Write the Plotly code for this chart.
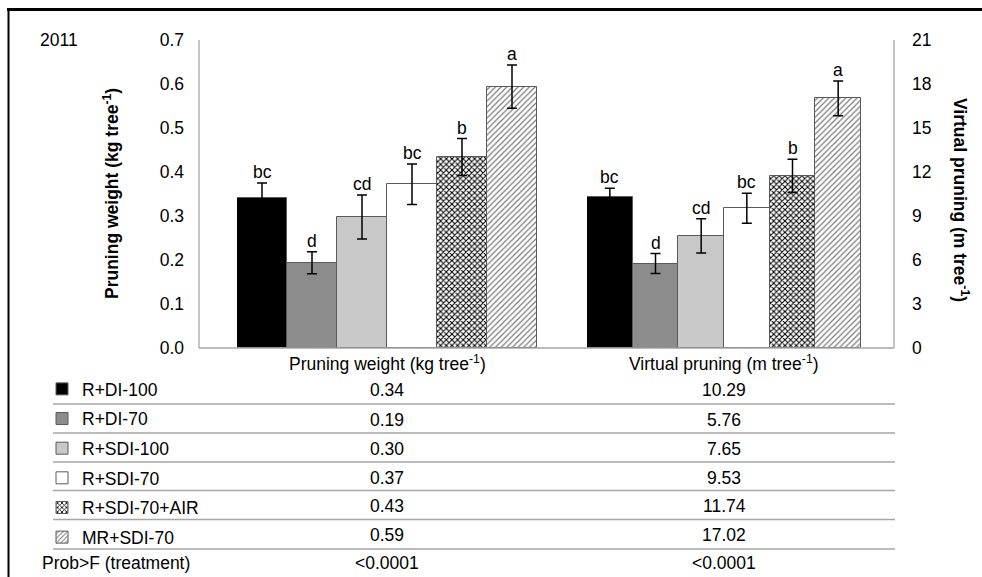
import plotly.graph_objects as go

# ---------------- data ----------------
treatments = ["R+DI-100", "R+DI-70", "R+SDI-100", "R+SDI-70", "R+SDI-70+AIR", "MR+SDI-70"]
pruning_weight = [0.34, 0.194, 0.298, 0.372, 0.434, 0.594]
pruning_err = [0.035, 0.025, 0.05, 0.046, 0.042, 0.049]
pruning_letters = ["bc", "d", "cd", "bc", "b", "a"]
virtual_pruning = [10.29, 5.76, 7.65, 9.53, 11.74, 17.02]
virtual_err = [0.6, 0.68, 1.17, 1.02, 1.13, 1.19]
virtual_letters = ["bc", "d", "cd", "bc", "b", "a"]
group_labels = ["Pruning weight (kg tree<sup>-1</sup>)", "Virtual pruning (m tree<sup>-1</sup>)"]
prob_label = "Prob>F (treatment)"
prob_values = ["<0.0001", "<0.0001"]
year_label = "2011"
left_title = "Pruning weight (kg tree<sup>-1</sup>)"
right_title = "Virtual pruning (m tree<sup>-1</sup>)"
left_ticks = [0.0, 0.1, 0.2, 0.3, 0.4, 0.5, 0.6, 0.7]
right_ticks = [0, 3, 6, 9, 12, 15, 18, 21]

# ---------------- styles ----------------
W, H = 982, 577
L, R, T, B = 199, 894, 40, 348
FONT = "Liberation Sans, Arial, Helvetica, sans-serif"
FS = 17.5


def px(x):
    return (x - L) / (R - L)


def py(y):
    return (B - y) / (B - T)


fills = ["#000000", "#8c8c8c", "#c8c8c8", "#ffffff", "#ffffff", "#ffffff"]
patterns = [
    None, None, None, None,
    dict(shape="x", fgcolor="#000000", bgcolor="#ffffff", size=4, solidity=0.45, fillmode="replace"),
    dict(shape="/", fgcolor="#7a7a7a", bgcolor="#ffffff", size=4, solidity=0.3, fillmode="replace"),
]
outline = "#5a5a5a"
grid_gray = "#a6a6a6"

fig = go.Figure()

for i, name in enumerate(treatments):
    marker = dict(color=fills[i], line=dict(color=outline, width=1))
    if patterns[i]:
        marker["pattern"] = patterns[i]
    fig.add_trace(go.Bar(
        x=["pw"], y=[pruning_weight[i]], name=name, legendgroup=name,
        marker=marker, xaxis="x", yaxis="y",
        error_y=dict(type="data", array=[pruning_err[i]], color="#000000", thickness=1.5, width=5),
        showlegend=True,
    ))
for i, name in enumerate(treatments):
    marker = dict(color=fills[i], line=dict(color=outline, width=1))
    if patterns[i]:
        marker["pattern"] = patterns[i]
    fig.add_trace(go.Bar(
        x=["vp"], y=[virtual_pruning[i]], name=name, legendgroup=name,
        marker=marker, xaxis="x2", yaxis="y2",
        error_y=dict(type="data", array=[virtual_err[i]], color="#000000", thickness=1.5, width=5),
        showlegend=False,
    ))

annotations = []
n = len(treatments)
tf = dict(size=FS, color="black", family=FONT)
for i in range(n):
    annotations.append(dict(
        xref="x", yref="y", x=-0.5 + (i + 0.5) / n, y=pruning_weight[i] + pruning_err[i],
        text=pruning_letters[i], showarrow=False, yanchor="bottom", yshift=-1, font=tf))
    annotations.append(dict(
        xref="x2", yref="y2", x=-0.5 + (i + 0.5) / n, y=virtual_pruning[i] + virtual_err[i],
        text=virtual_letters[i], showarrow=False, yanchor="bottom", yshift=-1, font=tf))

# table header
for ax, lab in zip(["x", "x2"], group_labels):
    annotations.append(dict(xref=ax, yref="paper", x=0, y=py(363), text=lab, showarrow=False,
                            yanchor="middle", font=tf))

row_y = [390, 419.5, 448.5, 477.5, 506, 535]
for i in range(n):
    annotations.append(dict(xref="x", yref="paper", x=0, y=py(row_y[i]), text=f"{pruning_weight[i]:.2f}",
                            showarrow=False, yanchor="middle", font=tf))
    annotations.append(dict(xref="x2", yref="paper", x=0, y=py(row_y[i]), text=f"{virtual_pruning[i]:.2f}",
                            showarrow=False, yanchor="middle", font=tf))
for ax, val in zip(["x", "x2"], prob_values):
    annotations.append(dict(xref=ax, yref="paper", x=0, y=py(563), text=val, showarrow=False,
                            yanchor="middle", font=tf))
annotations.append(dict(xref="paper", yref="paper", x=px(40), y=py(563), text=prob_label, showarrow=False,
                        xanchor="left", yanchor="middle", font=tf))
annotations.append(dict(xref="paper", yref="paper", x=px(38), y=py(40), text=year_label, showarrow=False,
                        xanchor="left", yanchor="middle", font=tf))
annotations.append(dict(xref="paper", yref="paper", x=px(111), y=py(194), text="<b>" + left_title + "</b>",
                        showarrow=False, textangle=-90, xanchor="center", yanchor="middle", font=tf))
annotations.append(dict(xref="paper", yref="paper", x=px(961), y=py(200), text="<b>" + right_title + "</b>",
                        showarrow=False, textangle=90, xanchor="center", yanchor="middle", font=tf))

shapes = []
# plot frame (left, right, bottom)
shapes.append(dict(type="line", xref="paper", yref="paper", x0=0, x1=0, y0=0, y1=1, line=dict(color=grid_gray, width=1.3)))
shapes.append(dict(type="line", xref="paper", yref="paper", x0=1, x1=1, y0=0, y1=1, line=dict(color=grid_gray, width=1.3)))
shapes.append(dict(type="line", xref="paper", yref="paper", x0=0, x1=1, y0=0, y1=0, line=dict(color=grid_gray, width=1.3)))
# table row separators
for yy in [404, 433, 462, 490.5, 519.5, 549]:
    shapes.append(dict(type="line", xref="paper", yref="paper", x0=px(53), x1=px(895), y0=py(yy), y1=py(yy),
                       line=dict(color=grid_gray, width=1.5)))
# outer frame (top and left edges)
shapes.append(dict(type="line", xref="paper", yref="paper", x0=px(7), x1=px(990), y0=py(9.5), y1=py(9.5),
                   line=dict(color="black", width=3)))
shapes.append(dict(type="line", xref="paper", yref="paper", x0=px(8.5), x1=px(8.5), y0=py(8), y1=py(590),
                   line=dict(color="black", width=2)))

fig.update_layout(
    width=W, height=H,
    margin=dict(l=L, r=W - R, t=T, b=H - B, pad=0),
    paper_bgcolor="white", plot_bgcolor="white",
    barmode="group", bargap=0, bargroupgap=0,
    font=dict(family=FONT, size=FS, color="black"),
    xaxis=dict(domain=[px(237), px(537)], anchor="y", visible=False, range=[-0.5, 0.5], fixedrange=True),
    xaxis2=dict(domain=[px(587), px(861)], anchor="y2", visible=False, range=[-0.5, 0.5], fixedrange=True),
    yaxis=dict(range=[0, 0.7], tickvals=left_ticks, ticktext=[f"{v:.1f}" for v in left_ticks],
               anchor="free", position=0, showgrid=False, zeroline=False, showline=False,
               ticks="", ticklabelstandoff=15, tickfont=tf),
    yaxis2=dict(range=[0, 21], tickvals=right_ticks, ticktext=[str(v) for v in right_ticks],
                overlaying="y", side="right", anchor="free", position=1, showgrid=False, zeroline=False,
                showline=False, ticks="", ticklabelstandoff=17, tickfont=tf),
    legend=dict(x=px(42), y=py(371), xanchor="left", yanchor="top", traceorder="grouped",
                tracegroupgap=3.9, font=tf,
                bgcolor="rgba(0,0,0,0)", borderwidth=0, itemclick=False),
    annotations=annotations,
    shapes=shapes,
    showlegend=True,
)

fig.write_html("out.html")
